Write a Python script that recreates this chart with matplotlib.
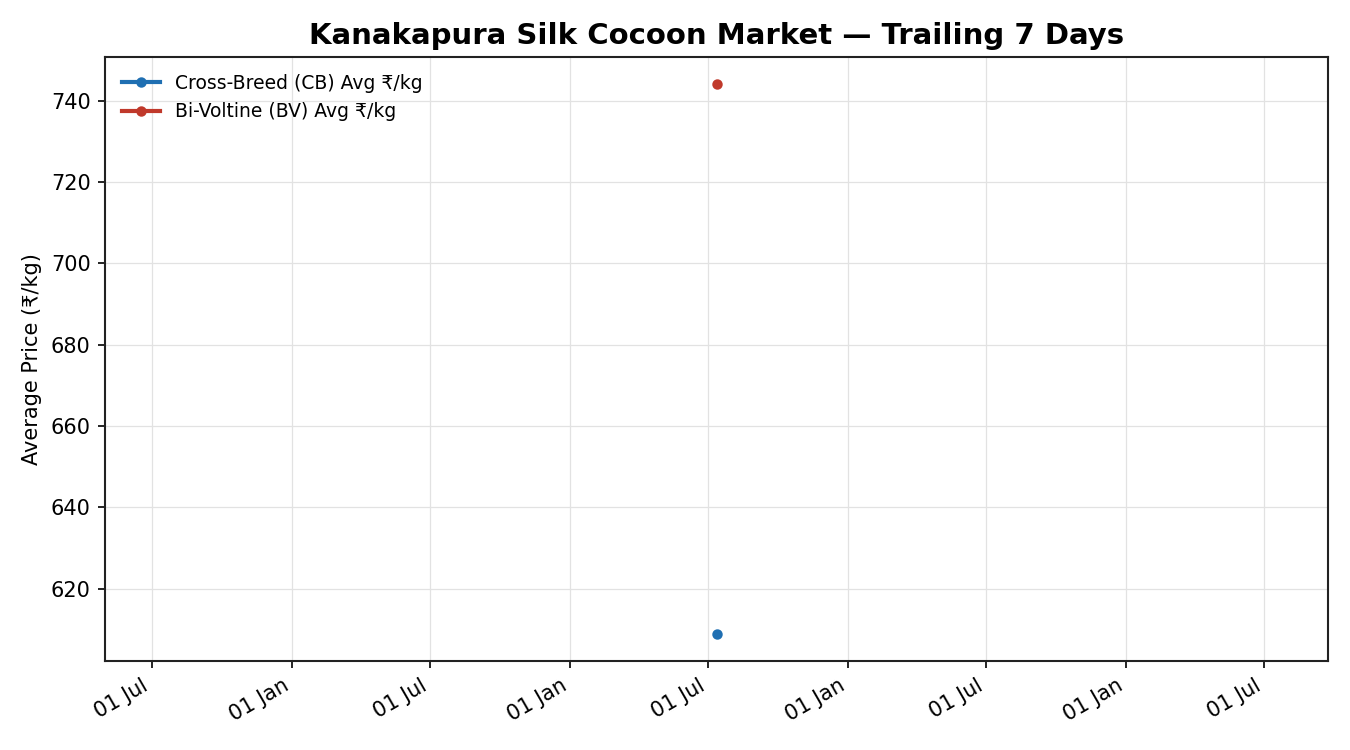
import matplotlib
matplotlib.use("Agg")
import matplotlib.pyplot as plt
import matplotlib.dates as mdates
import pandas as pd

dates = pd.to_datetime(["2025-07-12"])
cb_avg = [609]
bv_avg = [744]

plt.rcParams['font.family'] = ['DejaVu Sans']
fig, ax = plt.subplots(figsize=(9, 5), dpi=150)
ax.plot(dates, cb_avg, marker='o', color='#1f6fb2', linewidth=2, markersize=4, label='Cross-Breed (CB) Avg ₹/kg')
ax.plot(dates, bv_avg, marker='o', color='#c0392b', linewidth=2, markersize=4, label='Bi-Voltine (BV) Avg ₹/kg')

ax.set_title('Kanakapura Silk Cocoon Market — Trailing 7 Days', fontsize=14, fontweight='bold')
ax.set_ylabel('Average Price (₹/kg)', fontsize=10)
ax.xaxis.set_major_formatter(mdates.DateFormatter('%d %b'))
ax.grid(True, color='#e2e2e2', linewidth=0.6)
ax.tick_params(labelsize=10)
for s in ax.spines.values():
    s.set_color('#222222')
    s.set_linewidth(1.0)
ax.legend(loc='upper left', frameon=False, fontsize=9)
fig.autofmt_xdate()
fig.subplots_adjust(left=0.078, right=0.9837, top=0.924, bottom=0.1187)
fig.savefig('out.png', dpi=150)
